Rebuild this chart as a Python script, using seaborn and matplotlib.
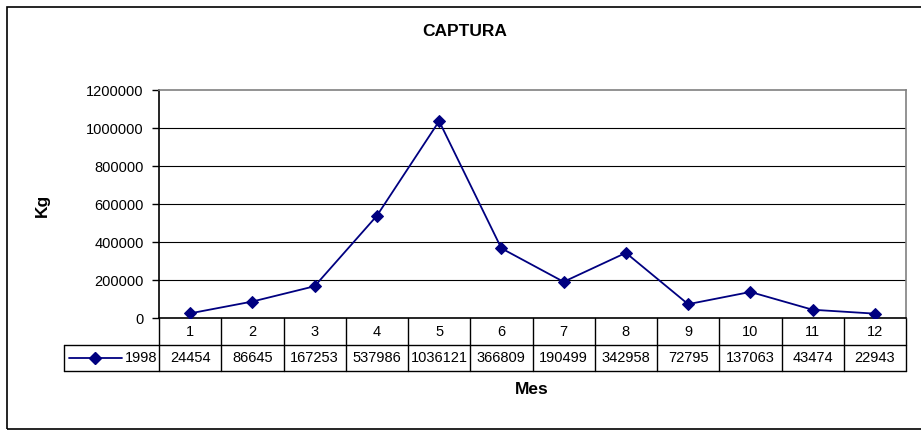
import numpy as np
import matplotlib
matplotlib.use('Agg')
import matplotlib.pyplot as plt
import seaborn as sns
from matplotlib.patches import Rectangle

# ==============================================================================
# DATA
# ==============================================================================

months = ['1', '2', '3', '4', '5', '6', '7', '8', '9', '10', '11', '12']
captura_1998 = [24454, 86645, 167253, 537986, 1036121, 366809,
                190499, 342958, 72795, 137063, 43474, 22943]
series_label = '1998'
y_ticks = [0, 200000, 400000, 600000, 800000, 1000000, 1200000]

LINE_COLOR = '#000080'
FS = 10.5

# ==============================================================================
# FIGURE
# ==============================================================================

sns.set_theme(style='white')
plt.rcParams['font.family'] = ['Liberation Sans', 'DejaVu Sans']
plt.rcParams['text.color'] = 'black'
plt.rcParams['ytick.color'] = 'black'

W, H = 921, 430
fig = plt.figure(figsize=(W / 100, H / 100), dpi=100)

# outer chart frame (right edge falls outside the image)
fig.add_artist(Rectangle((7 / W, 1 - 429 / H), (930 / W), (422 / H),
                         transform=fig.transFigure, fill=False,
                         edgecolor='black', linewidth=1.2))

# plot area in pixel coordinates
left, right, top, bottom = 159, 906, 90, 318
ax = fig.add_axes([left / W, 1 - bottom / H, (right - left) / W, (bottom - top) / H])

x = np.arange(len(months))
sns.lineplot(x=x, y=captura_1998, ax=ax, color=LINE_COLOR, linewidth=1.3,
             marker='D', markersize=6.5, markeredgecolor=LINE_COLOR, zorder=5)

ax.set_xlim(-0.5, len(months) - 0.5)
ax.set_ylim(0, 1200000)
ax.set_yticks(y_ticks)
ax.set_yticklabels([str(v) for v in y_ticks], fontsize=FS, color='black')
ax.set_xticks([])
ax.tick_params(axis='y', length=5, width=1, color='black', left=True, pad=6)

for v in y_ticks[1:-1]:
    ax.axhline(v, color='black', linewidth=0.8, zorder=1)

for side in ['top', 'right']:
    ax.spines[side].set_color('#808080')
    ax.spines[side].set_linewidth(1.2)
for side in ['left', 'bottom']:
    ax.spines[side].set_color('black')
    ax.spines[side].set_linewidth(1.2)

# ==============================================================================
# DATA TABLE (drawn under the plot area, x in category units)
# ==============================================================================

ax_h = bottom - top
col_px = (right - left) / len(months)
leg_x0 = -0.5 - (left - 64) / col_px          # left edge of legend cell
y_row0 = 0.0
y_row1 = -27 / ax_h
y_row2 = -53 / ax_h
tr = ax.get_xaxis_transform()
line_kw = dict(color='black', linewidth=1.0, transform=tr, clip_on=False)

# horizontal rules
ax.plot([leg_x0, len(months) - 0.5], [y_row1, y_row1], **line_kw)
ax.plot([leg_x0, len(months) - 0.5], [y_row2, y_row2], **line_kw)
# vertical rules
for xb in np.arange(len(months) + 1) - 0.5:
    ax.plot([xb, xb], [y_row0, y_row2], **line_kw)
ax.plot([leg_x0, leg_x0], [y_row1, y_row2], **line_kw)

for xi, m, v in zip(x, months, captura_1998):
    ax.text(xi, (y_row0 + y_row1) / 2, m, transform=tr, ha='center',
            va='center', fontsize=FS)
    ax.text(xi, (y_row1 + y_row2) / 2, str(v), transform=tr, ha='center',
            va='center', fontsize=FS)

# legend key inside the first cell
ym = (y_row1 + y_row2) / 2
ax.plot([leg_x0 + 0.08, leg_x0 + 0.93], [ym, ym], color=LINE_COLOR,
        linewidth=1.3, transform=tr, clip_on=False)
ax.plot([leg_x0 + 0.5], [ym], color=LINE_COLOR, marker='D', markersize=6.5,
        linestyle='none', transform=tr, clip_on=False)
ax.text(leg_x0 + 0.97, ym, series_label, transform=tr, ha='left',
        va='center', fontsize=FS)

# titles
fig.text(465 / W, 1 - 31 / H, 'CAPTURA', ha='center', va='center',
         fontsize=12.5, fontweight='bold')
fig.text(42 / W, 1 - 205 / H, 'Kg', ha='center', va='center', rotation=90,
         fontsize=12.5, fontweight='bold')
fig.text(532 / W, 1 - 389 / H, 'Mes', ha='center', va='center',
         fontsize=12.5, fontweight='bold')

fig.savefig('out.png', dpi=100)
